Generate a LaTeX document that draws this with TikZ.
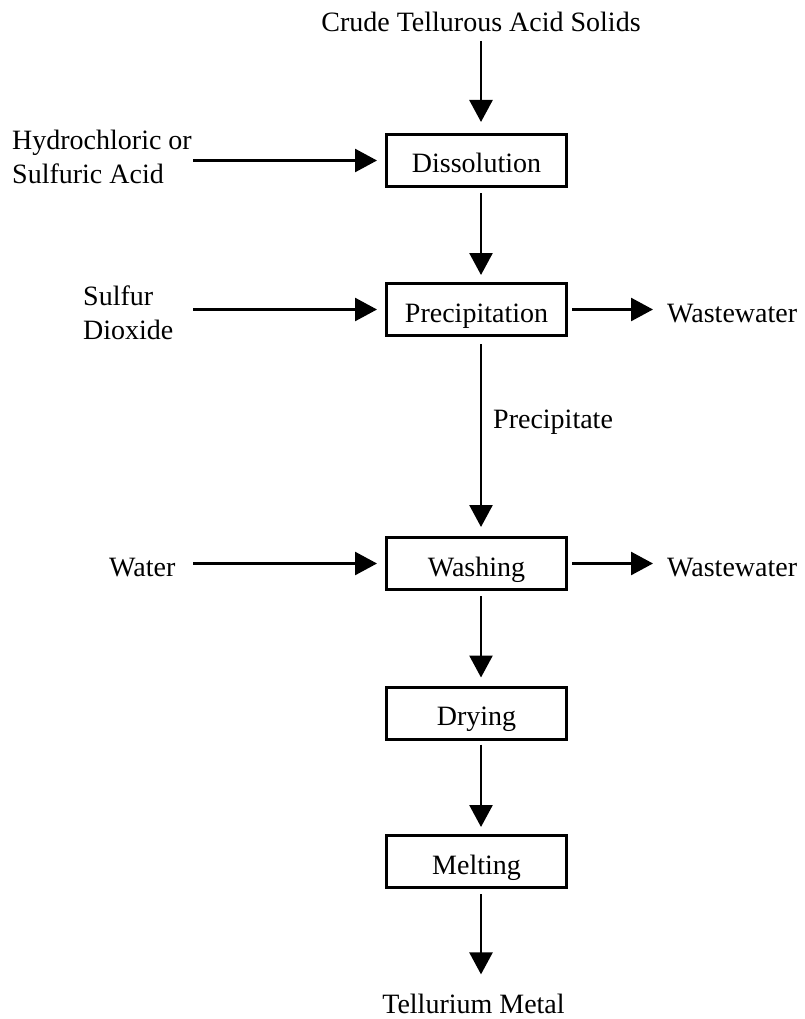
\documentclass[tikz,border=0pt]{standalone}
\usepackage{fontspec}
\setmainfont{Liberation Serif}
\usetikzlibrary{arrows.meta}
\begin{document}
\begin{tikzpicture}[x=1pt,y=-1pt,
  every node/.style={font=\fontsize{28}{34}\selectfont, inner sep=0pt},
  stage/.style={draw, line width=3pt, minimum width=180pt, minimum height=52pt,
                outer sep=1.5pt, text height=25pt, text depth=0pt},
  flow/.style={line width=2.6pt, -{Triangle[length=22pt,width=23pt]}},
  lbl/.style={anchor=base west},
]
\useasboundingbox (0,0) rectangle (804,1019);

% process stages
\node[stage] (dis)  at (476.5,160.5) {Dissolution};
\node[stage] (prec) at (476.5,309.5) {Precipitation};
\node[stage] (wash) at (476.5,563.5) {Washing};
\node[stage] (dry)  at (476.5,713)   {Drying};
\node[stage] (melt) at (476.5,861.5) {Melting};

% feeds and products
\node[anchor=base] (crude) at (481,32) {Crude Tellurous Acid Solids};
\node[align=left, anchor=north west] (hcl) at (12,130) {Hydrochloric or\\Sulfuric Acid};
\node[align=left, anchor=north west] (so2) at (83,286) {Sulfur\\Dioxide};
\node[lbl] (water) at (109,576) {Water};
\node[lbl] (ww1) at (667,322) {Wastewater};
\node[lbl] (ww2) at (667,576) {Wastewater};
\node[lbl] (ppt) at (493,428) {Precipitate};
\node[anchor=base] (metal) at (473.5,1013) {Tellurium Metal};

% guide lines for the arrows
\coordinate (col) at (481,0);
\coordinate (feed) at (193,0);

% main line
\draw[flow, shorten <=9pt, shorten >=11pt] (crude.base) -- (crude.base |- dis.north);
\draw[flow, shorten <=5pt, shorten >=7pt] (dis.south -| col) -- (prec.north -| col);
\draw[flow, shorten <=7pt, shorten >=9pt] (prec.south -| col) -- (wash.north -| col);
\draw[flow, shorten <=5pt, shorten >=8pt] (wash.south -| col) -- (dry.north -| col);
\draw[flow, shorten <=4pt, shorten >=7pt] (dry.south -| col) -- (melt.north -| col);
\draw[flow, shorten <=5pt, shorten >=19pt] (melt.south -| col) -- (metal.north -| col);

% side streams
\draw[flow, shorten >=8pt] (feed |- dis.west) -- (dis.west);
\draw[flow, shorten >=8pt] (feed |- prec.west) -- (prec.west);
\draw[flow, shorten >=8pt] (feed |- wash.west) -- (wash.west);
\draw[flow, shorten <=4pt, shorten >=14pt] (prec.east) -- (prec.east -| ww1.west);
\draw[flow, shorten <=4pt, shorten >=14pt] (wash.east) -- (wash.east -| ww2.west);
\end{tikzpicture}
\end{document}
